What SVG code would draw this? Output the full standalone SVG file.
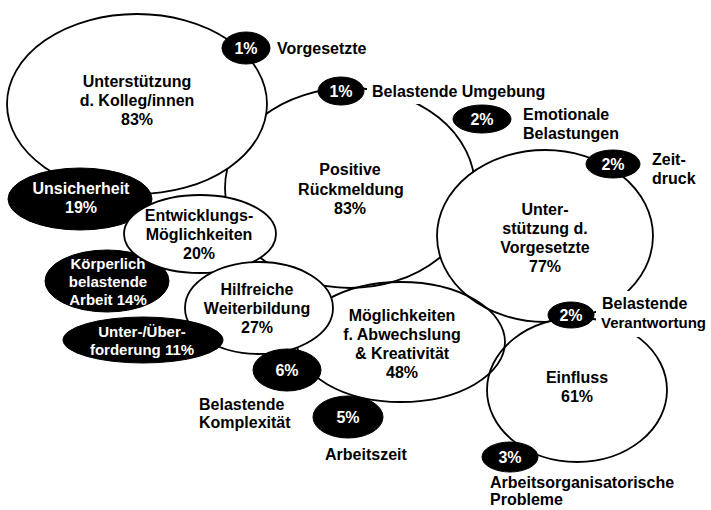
<svg xmlns="http://www.w3.org/2000/svg" width="711" height="510" viewBox="0 0 711 510">
<style>
.w{fill:#fff;stroke:#000;stroke-width:1.8}
.o{fill:none;stroke:#000;stroke-width:1.8}
.b{fill:#000;stroke:#000;stroke-width:1}
text{font-family:"Liberation Sans",Arial,sans-serif;font-weight:bold;font-size:16px;fill:#000}
.c{text-anchor:middle}
.wt{fill:#fff;text-anchor:middle}
.s{font-size:15px}
.bg{fill:#fff;stroke:none}
</style>
<rect width="711" height="510" fill="#fff"/>
<g id="connectors"></g>
<g id="positive-rueckmeldung">
<ellipse class="w" cx="350" cy="188" rx="125" ry="100"/>
<text class="c" x="350" y="175">Positive</text>
<text class="c" x="351" y="194.5">Rückmeldung</text>
<text class="c" x="350" y="214">83%</text>
</g>
<g id="unterstuetzung-kollegen">
<ellipse class="w" cx="137" cy="104" rx="130" ry="90"/>
<text class="c" x="137" y="87">Unterstützung</text>
<text class="c" x="137" y="106">d. Kolleg/innen</text>
<text class="c" x="137" y="125">83%</text>
</g>
<g id="unterstuetzung-vorgesetzte">
<ellipse class="w" cx="545" cy="236" rx="108" ry="86"/>
<text class="c" x="545" y="215">Unter-</text>
<text class="c" x="545" y="234">stützung d.</text>
<text class="c" x="545" y="253">Vorgesetzte</text>
<text class="c" x="545" y="272">77%</text>
</g>
<g id="einfluss">
<ellipse class="w" cx="577" cy="390" rx="90" ry="72"/>
<text class="c" x="577" y="383">Einfluss</text>
<text class="c" x="577" y="402">61%</text>
</g>
<g id="abwechslung">
<ellipse class="o" cx="401" cy="342" rx="104" ry="60"/>
<text class="c" x="402" y="321">Möglichkeiten</text>
<text class="c" x="402" y="340">f. Abwechslung</text>
<text class="c" x="402" y="359">&amp; Kreativität</text>
<text class="c" x="402" y="378">48%</text>
</g>
<g id="unsicherheit">
<ellipse class="b" cx="80" cy="199" rx="72" ry="31"/>
<text class="wt" x="81" y="194">Unsicherheit</text>
<text class="wt" x="81" y="213">19%</text>
</g>
<g id="koerperlich">
<ellipse class="b" cx="107" cy="281" rx="62" ry="31"/>
<text class="wt s" x="108" y="269">Körperlich</text>
<text class="wt s" x="108" y="287">belastende</text>
<text class="wt s" x="108" y="305">Arbeit 14%</text>
</g>
<g id="entwicklung">
<ellipse class="w" cx="200" cy="234" rx="76" ry="39"/>
<text class="c" x="199" y="221">Entwicklungs-</text>
<text class="c" x="199" y="240">Möglichkeiten</text>
<text class="c" x="199" y="259">20%</text>
</g>
<g id="weiterbildung">
<ellipse class="w" cx="259" cy="308" rx="74" ry="46"/>
<text class="c" x="257" y="295">Hilfreiche</text>
<text class="c" x="257" y="314">Weiterbildung</text>
<text class="c" x="257" y="333">27%</text>
</g>
<g id="ueberforderung">
<ellipse class="b" cx="143" cy="340" rx="80" ry="23"/>
<text class="wt s" x="142" y="337">Unter-/Über-</text>
<text class="wt s" x="142" y="355">forderung 11%</text>
</g>
<g id="komplexitaet">
<ellipse class="b" cx="287" cy="370" rx="34" ry="21"/>
<text class="wt" x="287" y="376">6%</text>
<text x="199" y="410">Belastende</text>
<text x="199" y="428">Komplexität</text>
</g>
<g id="arbeitszeit">
<ellipse class="b" cx="348" cy="417" rx="35" ry="21"/>
<text class="wt" x="348" y="423">5%</text>
<text x="325" y="460">Arbeitszeit</text>
</g>
<g id="arbeitsorganisation">
<ellipse class="b" cx="510" cy="457" rx="28" ry="15"/>
<text class="wt" x="510" y="463">3%</text>
<text x="490" y="488">Arbeitsorganisatorische</text>
<text x="490" y="505">Probleme</text>
</g>
<g id="verantwortung">
<rect class="bg" x="596" y="291" width="115" height="46"/>
<ellipse class="b" cx="571" cy="315" rx="23" ry="13"/>
<text class="wt" x="571" y="321">2%</text>
<text x="602" y="309">Belastende</text>
<text class="s" x="601" y="328">Verantwortung</text>
</g>
<g id="zeitdruck">
<ellipse class="b" cx="613" cy="164" rx="27" ry="14"/>
<text class="wt" x="613" y="170">2%</text>
<text x="652" y="165">Zeit-</text>
<text x="652" y="184">druck</text>
</g>
<g id="emotionale-belastungen">
<ellipse class="b" cx="482" cy="119" rx="29" ry="14"/>
<text class="wt" x="482" y="125">2%</text>
<text x="523" y="120">Emotionale</text>
<text x="523" y="139">Belastungen</text>
</g>
<g id="belastende-umgebung">
<rect class="bg" x="367" y="80" width="182" height="24"/>
<ellipse class="b" cx="341" cy="91" rx="23" ry="14"/>
<text class="wt" x="341" y="97">1%</text>
<text x="372" y="97">Belastende Umgebung</text>
</g>
<g id="vorgesetzte">
<ellipse class="b" cx="246" cy="48" rx="24" ry="16"/>
<text class="wt" x="246" y="54">1%</text>
<text x="277" y="54">Vorgesetzte</text>
</g>
</svg>
